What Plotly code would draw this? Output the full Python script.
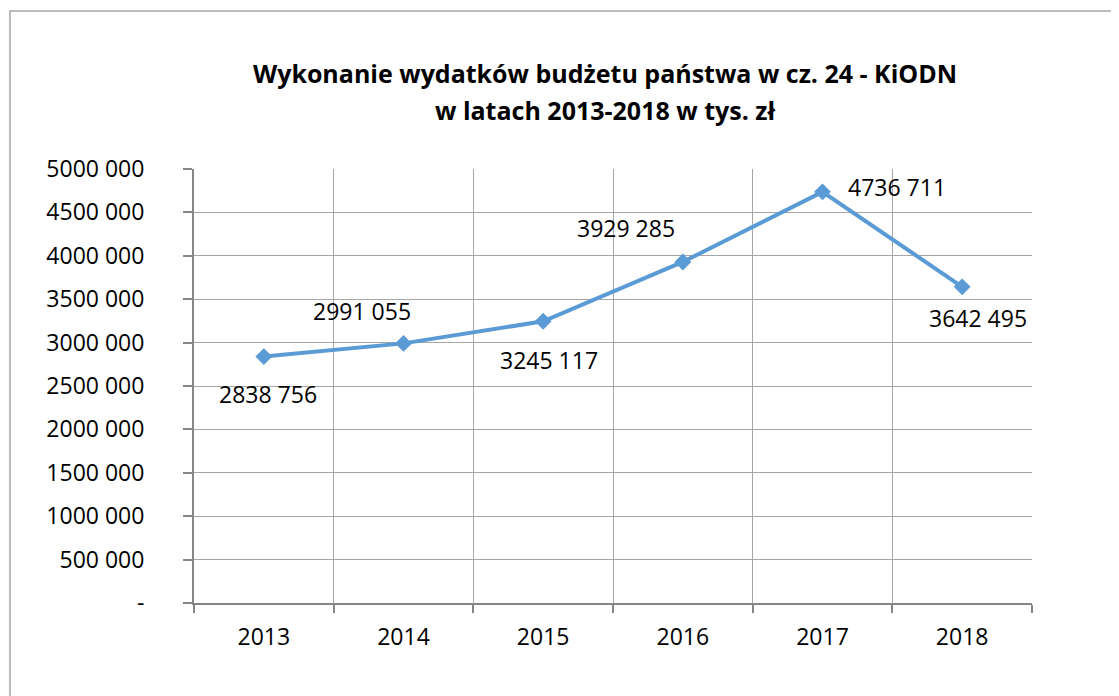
import plotly.graph_objects as go

years = ["2013", "2014", "2015", "2016", "2017", "2018"]
values = [2838756, 2991055, 3245117, 3929285, 4736711, 3642495]
labels = ["2838 756", "2991 055", "3245 117", "3929 285", "4736 711", "3642 495"]
ytick_vals = [0, 500000, 1000000, 1500000, 2000000, 2500000, 3000000, 3500000, 4000000, 4500000, 5000000]
ytick_text = ["-", "500 000", "1000 000", "1500 000", "2000 000", "2500 000", "3000 000",
              "3500 000", "4000 000", "4500 000", "5000 000"]
title_lines = ["Wykonanie wydatków budżetu państwa w cz. 24 - KiODN", "w latach 2013-2018 w tys. zł"]

# label offsets (styling)
offsets = [(4, -37), (-42, 32), (6, -39), (-57, 34), (74, 5), (16, -31)]

FONT = "Open Sans"
PAGE_OFF = 8  # browser body margin
W, H = 1119 - PAGE_OFF, 696 - PAGE_OFF
L, R, T, B = 194 - PAGE_OFF, 87, 169 - PAGE_OFF, 93

fig = go.Figure()
fig.add_trace(go.Scatter(
    x=years, y=values, mode="lines+markers",
    line=dict(color="#5b9bd5", width=4),
    marker=dict(symbol="diamond", size=13, color="#5b9bd5"),
    hoverinfo="x+y",
))

for i, (v, lab, (dx, dy)) in enumerate(zip(values, labels, offsets)):
    fig.add_annotation(x=i, y=v, xref="x", yref="y", text=lab, showarrow=False,
                       xshift=dx, yshift=dy,
                       font=dict(family=FONT, size=23, color="#000000"))

pw = W - L - R
ph = H - T - B

# title as two lines (centre y positions in page pixels)
for line, ypx in zip(title_lines, [73, 110]):
    fig.add_annotation(xref="paper", yref="paper",
                       x=(605 - PAGE_OFF - L) / pw,
                       y=(H - (ypx - PAGE_OFF) - B) / ph,
                       xanchor="center", yanchor="middle", showarrow=False,
                       text="<b>" + line + "</b>",
                       font=dict(family=FONT, size=25, color="#000000"))

fig.add_shape(type="rect", xref="paper", yref="paper",
              x0=(10 - PAGE_OFF - L) / pw, x1=(W + 20 - L) / pw,
              y0=-(B + 20) / ph, y1=(H - (11 - PAGE_OFF) - B) / ph,
              line=dict(color="#a6a6a6", width=1.5), layer="below")

fig.update_layout(
    width=W, height=H,
    margin=dict(l=L, r=R, t=T, b=B, autoexpand=False),
    paper_bgcolor="white", plot_bgcolor="white",
    showlegend=False,
    font=dict(family=FONT, size=23, color="#000000"),
)
fig.update_xaxes(type="category", range=[-0.5, 5.5], tickson="boundaries",
                 showgrid=True, gridcolor="#a6a6a6", gridwidth=1,
                 showline=True, linecolor="#868686", linewidth=2,
                 ticks="outside", ticklen=8, tickcolor="#868686", tickwidth=1.5,
                 tickfont=dict(family=FONT, size=23, color="#000000"), ticklabelstandoff=12,
                 fixedrange=True, zeroline=False)
fig.update_yaxes(range=[0, 5000000], tickvals=ytick_vals, ticktext=ytick_text,
                 showgrid=True, gridcolor="#a6a6a6", gridwidth=1,
                 showline=True, linecolor="#868686", linewidth=2,
                 ticks="outside", ticklen=9, tickcolor="#868686", tickwidth=1.5,
                 tickfont=dict(family=FONT, size=23, color="#000000"), ticklabelstandoff=34,
                 zeroline=False, fixedrange=True)

fig.write_html("out.html")
